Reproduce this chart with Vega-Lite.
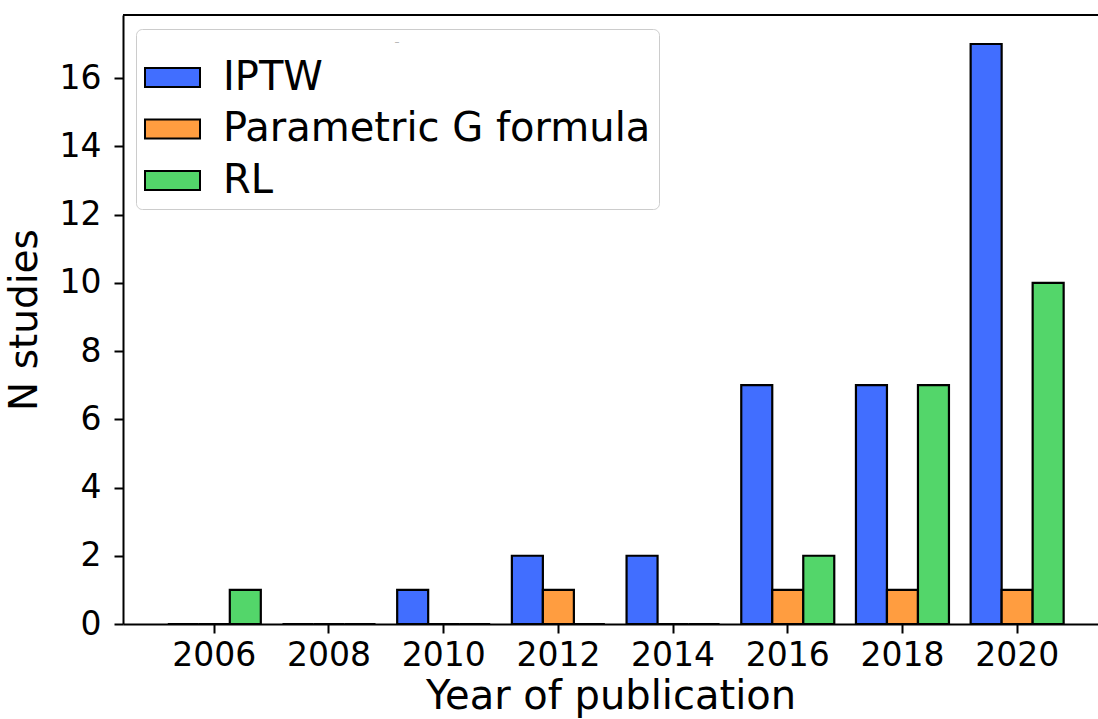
{
  "$schema": "https://vega.github.io/schema/vega-lite/v6.json",
  "width": 975,
  "height": 609,
  "autosize": {"type": "none"},
  "padding": {"left": 123, "top": 15, "right": 0, "bottom": 95},
  "background": "white",
  "config": {
    "view": {"stroke": null},
    "font": "DejaVu Sans",
    "axis": {"labelFont": "DejaVu Sans", "titleFont": "DejaVu Sans", "labelColor": "black", "titleColor": "black", "domainColor": "black", "tickColor": "black", "titleFontWeight": "normal", "grid": false}
  },
  "data": {
    "values": [
      {"year": 2006, "method": "IPTW", "n": 0},
      {"year": 2006, "method": "Parametric G formula", "n": 0},
      {"year": 2006, "method": "RL", "n": 1},
      {"year": 2008, "method": "IPTW", "n": 0},
      {"year": 2008, "method": "Parametric G formula", "n": 0},
      {"year": 2008, "method": "RL", "n": 0},
      {"year": 2010, "method": "IPTW", "n": 1},
      {"year": 2010, "method": "Parametric G formula", "n": 0},
      {"year": 2010, "method": "RL", "n": 0},
      {"year": 2012, "method": "IPTW", "n": 2},
      {"year": 2012, "method": "Parametric G formula", "n": 1},
      {"year": 2012, "method": "RL", "n": 0},
      {"year": 2014, "method": "IPTW", "n": 2},
      {"year": 2014, "method": "Parametric G formula", "n": 0},
      {"year": 2014, "method": "RL", "n": 0},
      {"year": 2016, "method": "IPTW", "n": 7},
      {"year": 2016, "method": "Parametric G formula", "n": 1},
      {"year": 2016, "method": "RL", "n": 2},
      {"year": 2018, "method": "IPTW", "n": 7},
      {"year": 2018, "method": "Parametric G formula", "n": 1},
      {"year": 2018, "method": "RL", "n": 7},
      {"year": 2020, "method": "IPTW", "n": 17},
      {"year": 2020, "method": "Parametric G formula", "n": 1},
      {"year": 2020, "method": "RL", "n": 10}
    ]
  },
  "layer": [
    {
      "mark": {"type": "bar", "stroke": "black", "strokeWidth": 2.2, "opacity": 1},
      "encoding": {
        "x": {
          "field": "year",
          "type": "ordinal",
          "scale": {"paddingInner": 0.189, "paddingOuter": 0.345, "align": 0.566},
          "axis": {
            "title": "Year of publication",
            "labelAngle": 0,
            "labelFontSize": 33,
            "titleFontSize": 40,
            "tickSize": 9,
            "tickWidth": 2,
            "domainWidth": 2,
            "labelPadding": 6,
            "titleBaseline": "alphabetic",
            "titleY": 84
          }
        },
        "xOffset": {"field": "method", "type": "nominal", "sort": ["IPTW", "Parametric G formula", "RL"]},
        "y": {
          "field": "n",
          "type": "quantitative",
          "scale": {"domain": [0, 17.85], "nice": false},
          "axis": {
            "title": "N studies",
            "values": [0, 2, 4, 6, 8, 10, 12, 14, 16],
            "labelFontSize": 33,
            "titleFontSize": 39,
            "tickSize": 9,
            "tickWidth": 2,
            "domainWidth": 2,
            "labelPadding": 13,
            "titleBaseline": "alphabetic",
            "titleX": -87
          }
        },
        "color": {
          "field": "method",
          "type": "nominal",
          "sort": ["IPTW", "Parametric G formula", "RL"],
          "scale": {"domain": ["IPTW", "Parametric G formula", "RL"], "range": ["#416eff", "#ff9d40", "#53d66a"]},
          "legend": {
            "orient": "none",
            "legendX": 13,
            "legendY": 14,
            "title": "–",
            "titleFontSize": 10,
            "titleColor": "#aaaaaa",
            "titleAnchor": "middle",
            "titlePadding": 2,
            "titleFontWeight": "normal",
            "labelFontSize": 40,
            "labelFont": "DejaVu Sans",
            "labelColor": "black",
            "labelLimit": 700,
            "labelOffset": 22,
            "symbolType": "M-1,-0.345H1V0.345H-1Z",
            "symbolSize": 3025,
            "symbolStrokeColor": "black",
            "symbolStrokeWidth": 2,
            "symbolOpacity": 1,
            "rowPadding": 2.5,
            "padding": 8,
            "fillColor": "white",
            "strokeColor": "#cccccc",
            "cornerRadius": 6
          }
        }
      }
    },
    {
      "mark": {"type": "rule", "color": "black", "strokeWidth": 2},
      "encoding": {"y": {"datum": 17.85, "type": "quantitative"}}
    }
  ]
}
